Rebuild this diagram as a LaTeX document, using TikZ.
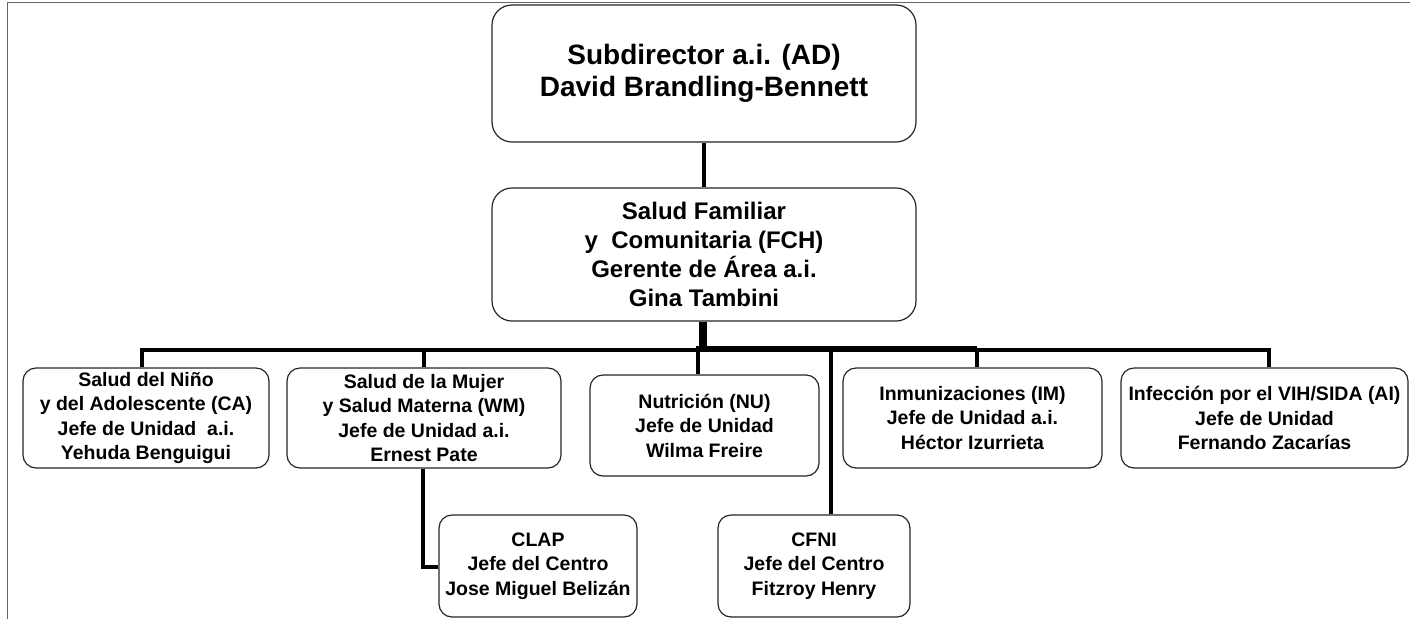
\documentclass[tikz,border=0pt]{standalone}
\usepackage{fontspec}
\setmainfont{Liberation Sans}
\begin{document}
\begin{tikzpicture}[x=1pt,y=-1pt,
  box/.style={draw=black!85, line width=1.2pt, rounded corners=13pt, fill=white,
    align=center, inner sep=0pt, font=\bfseries\fontsize{19.5}{24.5}\selectfont},
  bigbox/.style={box, rounded corners=20pt, minimum width=424pt},
  conn/.style={line width=4pt, black, line join=miter},
  frame/.style={black!60, line width=1.5pt}]
\useasboundingbox (0,0) rectangle (1410,619);
\draw[frame] (7.5,619) -- (7.5,2.7) -- (1410,2.7);

% nodes
\node[bigbox, minimum height=137pt, font=\bfseries\fontsize{28}{32}\selectfont] (AD) at (704,73.5)
  {Subdirector a.i. (AD)\\David Brandling-Bennett};
\node[bigbox, minimum height=133pt, font=\bfseries\fontsize{24}{29}\selectfont] (FCH) at (704,254.5)
  {Salud Familiar\\y\ \ Comunitaria (FCH)\\Gerente de Área a.i.\\Gina Tambini};
\node[box, minimum width=246pt, minimum height=100pt] (CA) at (146,418)
  {Salud del Niño\\y del Adolescente (CA)\\Jefe de Unidad\ \ a.i.\\Yehuda Benguigui};
\node[box, minimum width=274pt, minimum height=100pt] (WM) at (424,418)
  {Salud de la Mujer\\y Salud Materna (WM)\\Jefe de Unidad a.i.\\Ernest Pate};
\node[box, minimum width=229pt, minimum height=101pt] (NU) at (704.5,425.5)
  {Nutrición (NU)\\Jefe de Unidad\\Wilma Freire};
\node[box, minimum width=259pt, minimum height=100pt] (IM) at (972.5,418)
  {Inmunizaciones (IM)\\Jefe de Unidad a.i.\\Héctor Izurrieta};
\node[box, minimum width=287pt, minimum height=100pt] (AI) at (1264.5,418)
  {Infección por el VIH/SIDA (AI)\\Jefe de Unidad\\Fernando Zacarías};
\node[box, minimum width=198pt, minimum height=102pt] (CLAP) at (538,566)
  {CLAP\\Jefe del Centro\\Jose Miguel Belizán};
\node[box, minimum width=192pt, minimum height=102pt] (CFNI) at (814,566)
  {CFNI\\Jefe del Centro\\Fitzroy Henry};

% bus coordinates
\coordinate (bus) at (703,350);
\coordinate (dCA) at (142,350);
\coordinate (dWM) at (424,350);
\coordinate (dNU) at (698,346);
\coordinate (dCF) at (831,350);
\coordinate (dIM) at (977,350);
\coordinate (dAI) at (1269,350);
\coordinate (wmx) at (423,567);

% connectors
\draw[conn] (AD.south) -- (FCH.north);
\draw[conn, line width=8pt] (FCH.south -| bus) -- ([yshift=2pt]bus);
\draw[conn] (dCA |- CA.north) -- (dCA) -- (dAI) -- (dAI |- AI.north);
\draw[conn, line width=6pt] ([yshift=1pt]bus) -- ([yshift=1pt]dIM);
\draw[conn] (dWM) -- (dWM |- WM.north);
\draw[conn] (dNU) -- (dNU |- NU.north);
\draw[conn] (dIM) -- (dIM |- IM.north);
\draw[conn, line width=4.5pt] (dCF) -- (dCF |- CFNI.north);
\draw[conn, line width=4.5pt] (wmx |- WM.south) -- (wmx) -- (CLAP.west |- wmx);
\end{tikzpicture}
\end{document}
